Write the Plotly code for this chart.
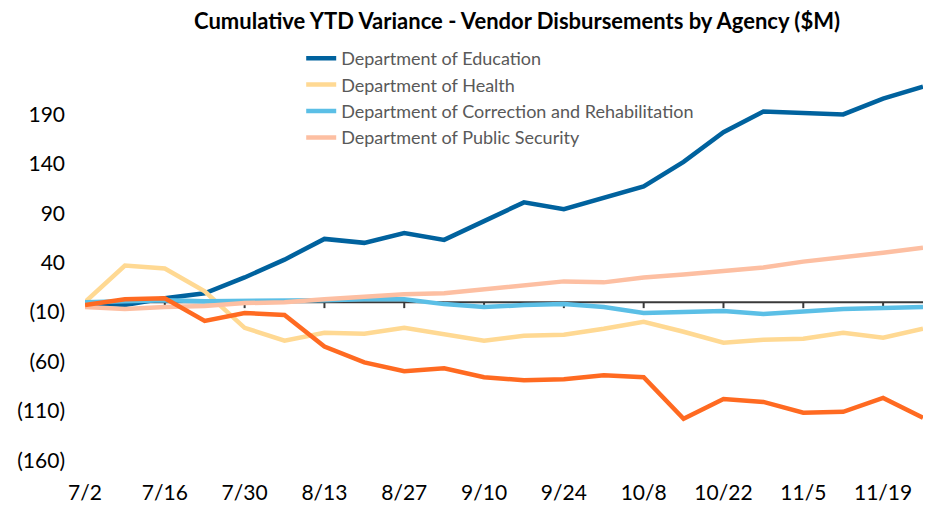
import plotly.graph_objects as go

weeks = ["7/2", "7/9", "7/16", "7/23", "7/30", "8/6", "8/13", "8/20", "8/27", "9/3", "9/10",
         "9/17", "9/24", "10/1", "10/8", "10/15", "10/22", "10/29", "11/5", "11/12", "11/19", "11/26"]

education = [-1, -3, 4, 9, 25, 43, 64, 60, 70, 63, 82, 101, 94, 105, 117, 142, 172, 193, 192, 190, 206, 218]
health = [0, 37, 34, 11, -26, -39, -31, -32, -26, -33, -39, -34, -33, -27, -20, -30, -41, -38, -37, -31, -36, -27]
correction = [0, 1, 2, 1, 1, 1, 2, 3, 3, -2, -5, -3, -2, -5, -11, -10, -9, -12, -9, -7, -6, -5]
public_security = [-5, -7, -5, -4, -1, 0, 3, 6, 8, 9, 13, 17, 21, 20, 25, 28, 32, 35, 41, 45, 50, 55]
other = [-3, 3, 4, -19, -11, -13, -45, -61, -70, -67, -76, -79, -78, -74, -76, -118, -98, -101, -112, -111, -97, -117]

y_tickvals = [190, 140, 90, 40, -10, -60, -110, -160]
y_ticktext = ["190", "140", "90", "40", "(10)", "(60)", "(110)", "(160)"]

series = [
    ("Department of Education", education, "#00629E", True),
    ("Department of Health", health, "#FFD993", True),
    ("Department of Correction and Rehabilitation", correction, "#5BBFE6", True),
    ("Department of Public Security", public_security, "#FDBFA2", True),
    ("Other", other, "#FF6A21", False),
]

FONT = "Lato"
Y_MIN, Y_MAX = -178, 240
AXIS_COLOR = "#3A3A3A"

fig = go.Figure()
for name, vals, color, show in series:
    fig.add_trace(go.Scatter(
        x=weeks, y=vals, name=name, mode="lines",
        line=dict(color=color, width=4.5),
        showlegend=show, hoverinfo="skip",
    ))

# horizontal category axis line drawn at zero, with tick marks every two weeks
shapes = [dict(type="line", xref="x", yref="y", x0=0, x1=len(weeks) - 1, y0=0, y1=0,
               line=dict(color=AXIS_COLOR, width=2), layer="below")]
for i in range(0, len(weeks), 2):
    shapes.append(dict(type="line", xref="x", yref="y", x0=i, x1=i,
                       ysizemode="pixel", yanchor=0, y0=0, y1=-6,
                       line=dict(color=AXIS_COLOR, width=2), layer="below"))

fig.update_layout(
    width=934, height=497,
    margin=dict(l=77, r=19, t=57, b=27, autoexpand=False),
    paper_bgcolor="white", plot_bgcolor="white",
    font=dict(family=FONT, size=21, color="black"),
    title=dict(
        text="<b>Cumulative YTD Variance - Vendor Disbursements by Agency ($M)</b>",
        x=0.545, xanchor="center", y=0.974, yanchor="middle", yref="container",
        font=dict(family=FONT, size=22, color="black"),
    ),
    showlegend=True,
    legend=dict(
        x=0.258, xanchor="left", y=1.0605, yanchor="top",
        bgcolor="rgba(0,0,0,0)", font=dict(family=FONT, size=18, color="#595959"),
        traceorder="normal",
    ),
    shapes=shapes,
    xaxis=dict(
        type="category", range=[0, len(weeks) - 1], dtick=2, automargin=False,
        showline=False, showgrid=False, zeroline=False, ticks="",
        tickfont=dict(family=FONT, size=21, color="black"),
    ),
    yaxis=dict(
        range=[Y_MIN, Y_MAX], tickvals=y_tickvals, ticktext=y_ticktext, automargin=False,
        showline=False, showgrid=False, zeroline=False, ticks="",
        ticklabelstandoff=19,
        tickfont=dict(family=FONT, size=21, color="black"),
    ),
)

fig.write_html("out.html")
